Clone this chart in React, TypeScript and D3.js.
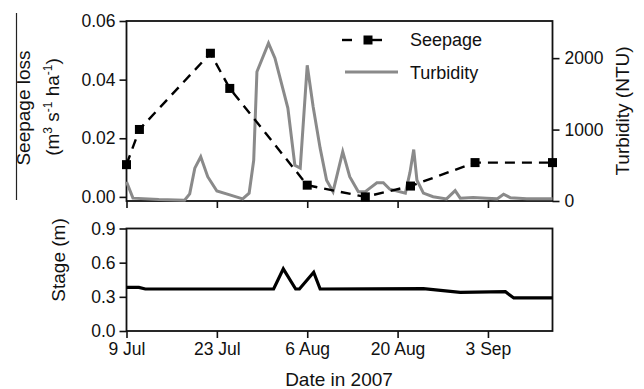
import React, { useRef, useEffect } from "react";
import * as d3 from "d3";

// seepage loss measurements (m3 s-1 ha-1)
const seepDates = [
  "2007-07-09 00", "2007-07-11 00", "2007-07-22 00", "2007-07-25 00", "2007-08-06 00",
  "2007-08-15 00", "2007-08-22 00", "2007-09-01 00", "2007-09-13 00",
];
const seepage = [0.011, 0.023, 0.049, 0.037, 0.004, 0.0, 0.0037, 0.0117, 0.0117];

// turbidity (NTU)
const turbDates = [
  "2007-07-09 00", "2007-07-10 00", "2007-07-14 00", "2007-07-18 00", "2007-07-18 19",
  "2007-07-19 14", "2007-07-20 12", "2007-07-21 14", "2007-07-23 00", "2007-07-25 00",
  "2007-07-27 00", "2007-07-28 00", "2007-07-28 17", "2007-07-29 05", "2007-07-31 00",
  "2007-08-01 00", "2007-08-02 07", "2007-08-03 00", "2007-08-04 02", "2007-08-04 22",
  "2007-08-06 00", "2007-08-06 22", "2007-08-08 00", "2007-08-09 00", "2007-08-10 00",
  "2007-08-11 12", "2007-08-12 14", "2007-08-13 22", "2007-08-15 00", "2007-08-15 17",
  "2007-08-16 19", "2007-08-17 19", "2007-08-18 19", "2007-08-21 05", "2007-08-21 22",
  "2007-08-22 12", "2007-08-23 00", "2007-08-24 00", "2007-08-25 12", "2007-08-27 14",
  "2007-08-28 22", "2007-08-29 17", "2007-08-31 17", "2007-09-02 19", "2007-09-04 10",
  "2007-09-05 10", "2007-09-06 12", "2007-09-09 00", "2007-09-13 00",
];
const turbidity = [
  270, 40, 20, 10, 100,
  460, 620, 340, 140, 85,
  30, 110, 570, 1810, 2210,
  2000, 1550, 1300, 500, 460,
  1900, 1320, 740, 290, 130,
  690, 340, 130, 130, 180,
  255, 255, 165, 110, 400,
  720, 290, 110, 60, 30,
  145, 40, 50, 40, 30,
  95, 45, 30, 30,
];

// stage (m)
const stageDates = [
  "2007-07-09 00", "2007-07-10 22", "2007-07-11 22", "2007-07-31 19", "2007-08-02 07",
  "2007-08-04 05", "2007-08-04 19", "2007-08-07 00", "2007-08-08 00", "2007-08-24 00",
  "2007-08-29 17", "2007-09-05 17", "2007-09-07 00", "2007-09-13 00",
];
const stage = [0.383, 0.383, 0.369, 0.369, 0.546, 0.369, 0.369, 0.516, 0.369, 0.372, 0.339, 0.345, 0.29, 0.29];

const dateTicks = ["2007-07-09 00", "2007-07-23 00", "2007-08-06 00", "2007-08-20 00", "2007-09-03 00"];
const seepTicks = [0, 0.02, 0.04, 0.06];
const turbTicks = [0, 1000, 2000];
const stageTicks = [0, 0.3, 0.6, 0.9];

const FONT = "'Liberation Sans', Arial, sans-serif";

const App = () => {
  const svgRef = useRef<SVGSVGElement>(null);

  useEffect(() => {
    const svg = d3.select(svgRef.current);
    svg.selectAll("*").remove();

    const parse = d3.timeParse("%Y-%m-%d %H");
    const left = 126.5;
    const right = 552.5;

    const x = d3
      .scaleTime()
      .domain([parse("2007-07-09 00")!, parse("2007-09-13 00")!])
      .range([left, right]);

    const top1 = 21;
    const bot1 = 201;
    const ySeep = d3.scaleLinear().domain([-0.0014, 0.06]).range([bot1, top1]);
    const yTurb = d3.scaleLinear().domain([0, 2520]).range([bot1, top1]);

    const top2 = 228.5;
    const bot2 = 331;
    const yStage = d3.scaleLinear().domain([0, 0.9]).range([bot2, top2]);

    const tickVals = dateTicks.map((d) => parse(d)!);
    const fmt = d3.timeFormat("%-d %b");

    const styleAxis = (g: any) => {
      g.selectAll(".domain").remove();
      g.selectAll("line").attr("stroke", "#111").attr("stroke-width", 1.6);
      g.selectAll("text").attr("font-family", FONT).attr("font-size", 17.5).attr("fill", "#111");
    };

    // ---- top panel ----
    svg
      .append("rect")
      .attr("x", left)
      .attr("y", top1)
      .attr("width", right - left)
      .attr("height", bot1 - top1)
      .attr("fill", "none")
      .attr("stroke", "#111")
      .attr("stroke-width", 1.8);

    svg
      .append("g")
      .attr("transform", `translate(${left},0)`)
      .call(d3.axisLeft(ySeep).tickValues(seepTicks).tickFormat(d3.format(".2f")).tickSize(7).tickPadding(4))
      .call(styleAxis);

    svg
      .append("g")
      .attr("transform", `translate(${right},0)`)
      .call(d3.axisRight(yTurb).tickValues(turbTicks).tickFormat(d3.format("d")).tickSize(7).tickPadding(5))
      .call(styleAxis);

    svg
      .append("g")
      .attr("transform", `translate(0,${bot1})`)
      .call(d3.axisBottom(x).tickValues(tickVals).tickFormat(() => "").tickSize(7))
      .call(styleAxis);

    const turbLine = d3
      .line<number>()
      .x((_, i) => x(parse(turbDates[i])!))
      .y((d) => yTurb(d));

    svg
      .append("path")
      .datum(turbidity)
      .attr("d", turbLine)
      .attr("fill", "none")
      .attr("stroke", "#8a8a8a")
      .attr("stroke-width", 3)
      .attr("stroke-linejoin", "miter");

    const seepLine = d3
      .line<number>()
      .x((_, i) => x(parse(seepDates[i])!))
      .y((d) => ySeep(d));

    svg
      .append("path")
      .datum(seepage)
      .attr("d", seepLine)
      .attr("fill", "none")
      .attr("stroke", "#000")
      .attr("stroke-width", 2.4)
      .attr("stroke-dasharray", "10,7");

    svg
      .append("g")
      .selectAll("rect")
      .data(seepage)
      .join("rect")
      .attr("x", (_, i) => x(parse(seepDates[i])!) - 4.5)
      .attr("y", (d) => ySeep(d) - 4.5)
      .attr("width", 9)
      .attr("height", 9)
      .attr("fill", "#000");

    // legend
    const lg = svg.append("g");
    lg.append("line").attr("x1", 342).attr("x2", 352).attr("y1", 40).attr("y2", 40).attr("stroke", "#000").attr("stroke-width", 2.4);
    lg.append("line").attr("x1", 372).attr("x2", 382).attr("y1", 40).attr("y2", 40).attr("stroke", "#000").attr("stroke-width", 2.4);
    lg.append("rect").attr("x", 363.5).attr("y", 35.5).attr("width", 9).attr("height", 9).attr("fill", "#000");
    lg.append("line").attr("x1", 345).attr("x2", 398).attr("y1", 72).attr("y2", 72).attr("stroke", "#8a8a8a").attr("stroke-width", 3);
    lg.append("text").attr("x", 410).attr("y", 46).text("Seepage");
    lg.append("text").attr("x", 410).attr("y", 79).text("Turbidity");
    lg.selectAll("text").attr("font-family", FONT).attr("font-size", 18).attr("fill", "#111");

    // y titles
    const lab = svg.append("g").attr("font-family", FONT).attr("font-size", 19).attr("fill", "#111");
    lab
      .append("text")
      .attr("transform", "translate(30,108) rotate(-90)")
      .attr("text-anchor", "middle")
      .text("Seepage loss");
    const t2 = lab
      .append("text")
      .attr("transform", "translate(59,107) rotate(-90)")
      .attr("text-anchor", "middle");
    t2.append("tspan").text("(m");
    t2.append("tspan").attr("dy", -7).attr("font-size", 12).text("3");
    t2.append("tspan").attr("dy", 7).text(" s");
    t2.append("tspan").attr("dy", -7).attr("font-size", 12).text("-1");
    t2.append("tspan").attr("dy", 7).text(" ha");
    t2.append("tspan").attr("dy", -7).attr("font-size", 12).text("-1");
    t2.append("tspan").attr("dy", 7).text(")");
    lab
      .append("text")
      .attr("transform", "translate(629,111) rotate(-90)")
      .attr("text-anchor", "middle")
      .text("Turbidity (NTU)");
    lab
      .append("text")
      .attr("transform", "translate(65,260) rotate(-90)")
      .attr("text-anchor", "middle")
      .text("Stage (m)");
    lab
      .append("text")
      .attr("x", 339)
      .attr("y", 386)
      .attr("text-anchor", "middle")
      .text("Date in 2007");

    // stray rule beside the seepage title
    svg.append("line").attr("x1", 16.5).attr("x2", 16.5).attr("y1", 13).attr("y2", 200).attr("stroke", "#222").attr("stroke-width", 1.2);

    // ---- bottom panel ----
    svg
      .append("rect")
      .attr("x", left)
      .attr("y", top2)
      .attr("width", right - left)
      .attr("height", bot2 - top2)
      .attr("fill", "none")
      .attr("stroke", "#111")
      .attr("stroke-width", 1.8);

    svg
      .append("g")
      .attr("transform", `translate(${left},0)`)
      .call(d3.axisLeft(yStage).tickValues(stageTicks).tickFormat(d3.format(".1f")).tickSize(7).tickPadding(4))
      .call(styleAxis);

    svg
      .append("g")
      .attr("transform", `translate(0,${bot2})`)
      .call(d3.axisBottom(x).tickValues(tickVals).tickFormat((d: any) => fmt(d)).tickSize(7).tickPadding(5))
      .call(styleAxis);

    const stageLine = d3
      .line<number>()
      .x((_, i) => x(parse(stageDates[i])!))
      .y((d) => yStage(d));

    svg
      .append("path")
      .datum(stage)
      .attr("d", stageLine)
      .attr("fill", "none")
      .attr("stroke", "#000")
      .attr("stroke-width", 3.2);
  }, []);

  return (
    <svg
      ref={svgRef}
      width={644}
      height={389}
      style={{ position: "absolute", left: 0, top: 0, background: "#fff" }}
    ></svg>
  );
};

export default App;
